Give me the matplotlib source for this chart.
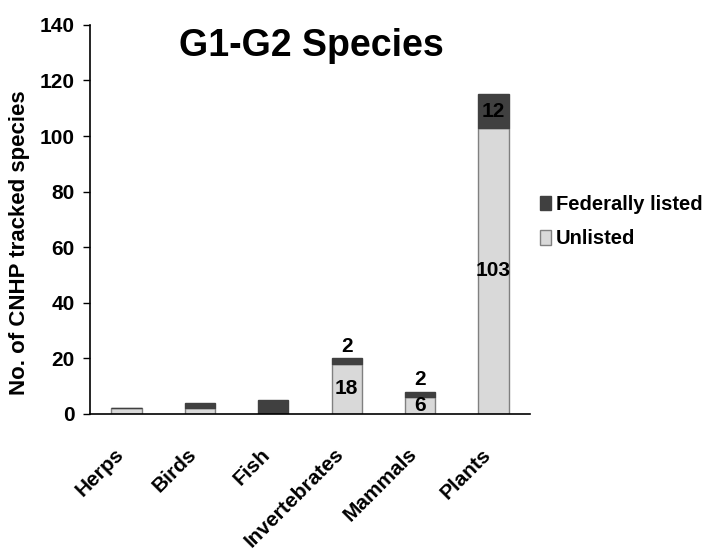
import matplotlib
matplotlib.use('Agg')
import matplotlib.pyplot as plt
import matplotlib.transforms as mtransforms
import numpy as np

categories = ['Herps', 'Birds', 'Fish', 'Invertebrates', 'Mammals', 'Plants']
unlisted = [2, 2, 0, 18, 6, 103]
federal = [0, 2, 5, 2, 2, 12]

plt.rcParams['font.family'] = ['Liberation Sans', 'DejaVu Sans']
plt.rcParams['font.weight'] = 'bold'

fig = plt.figure(figsize=(7.07, 5.54), dpi=100)
ax = fig.add_axes([0.127, 0.253, 0.623, 0.702])

x = np.arange(len(categories))
w = 0.41
ax.bar(x, unlisted, w, color='#d9d9d9', edgecolor='#808080', linewidth=1, label='Unlisted')
ax.bar(x, federal, w, bottom=unlisted, color='#404040', edgecolor='#404040', linewidth=1,
       label='Federally listed')

# value labels
for i in [3, 4, 5]:
    ax.text(x[i], unlisted[i] / 2, str(unlisted[i]), ha='center', va='center',
            fontsize=15, fontweight='bold')
for i in [3, 4]:
    ax.text(x[i], unlisted[i] + federal[i] + 0.8, str(federal[i]), ha='center', va='bottom',
            fontsize=15, fontweight='bold')
ax.text(x[5], unlisted[5] + federal[5] / 2, str(federal[5]), ha='center', va='center',
        fontsize=15, fontweight='bold')

ax.set_xlim(-0.5, len(categories) - 0.5)
ax.set_ylim(0, 140)
ax.set_yticks(range(0, 141, 20))
ax.set_xticks(x)
ax.set_xticklabels(categories, rotation=45, ha='right', va='center', rotation_mode='anchor',
                   fontsize=15, fontweight='bold')
ax.tick_params(axis='x', length=0, pad=27)
shift = mtransforms.ScaledTranslation(-6 / 100, 0, fig.dpi_scale_trans)
for t in ax.get_xticklabels():
    t.set_transform(t.get_transform() + shift)
ax.tick_params(axis='y', labelsize=15, direction='out', length=5, width=1, pad=6)
for t in ax.get_yticklabels():
    t.set_fontweight('bold')
ax.spines['top'].set_visible(False)
ax.spines['right'].set_visible(False)
ax.spines['left'].set_linewidth(1.2)
ax.spines['bottom'].set_linewidth(1.2)

fig.text(20 / 707, 1 - 243 / 554, 'No. of CNHP tracked species', rotation=90,
         ha='center', va='center', fontsize=16, fontweight='bold')
ax.text(0.502, 0.946, 'G1-G2 Species', transform=ax.transAxes, ha='center', va='center',
        fontsize=27, fontweight='bold')

handles, labels = ax.get_legend_handles_labels()
fig.legend(handles[::-1], labels[::-1], loc='center left', bbox_to_anchor=(0.738, 0.6),
           frameon=False, handlelength=0.55, handleheight=0.75,
           handletextpad=0.25, labelspacing=0.75, prop={'weight': 'bold', 'size': 14.5})

fig.savefig('out.png', dpi=100)
